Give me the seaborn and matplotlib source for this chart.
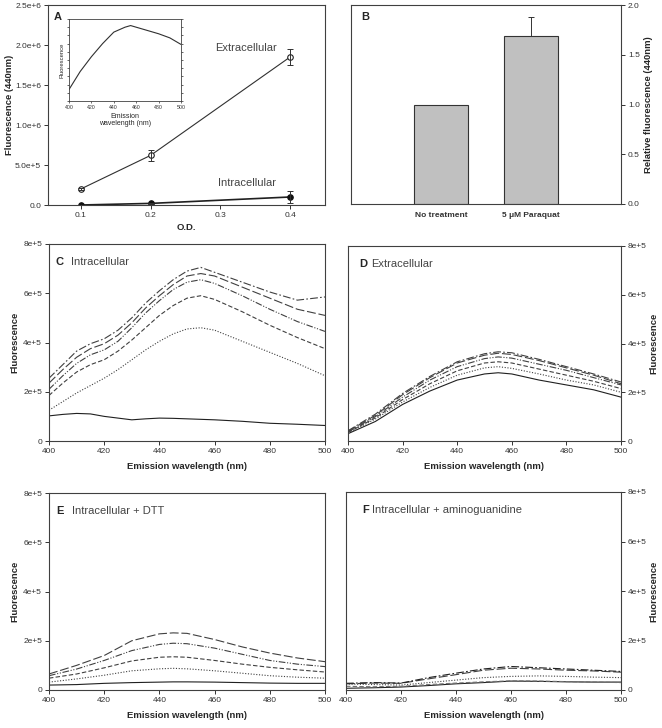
import numpy as np
import pandas as pd
import matplotlib
matplotlib.use("Agg")
import matplotlib.pyplot as plt
from matplotlib.ticker import FuncFormatter
import seaborn as sns

# ---- data ----
# panel A
od = [0.1, 0.2, 0.4]
extra_a = [2.0e5, 6.2e5, 1.85e6]
extra_a_err = [0.15e5, 0.7e5, 1.0e5]
intra_a = [0.0, 0.02e6, 0.10e6]
intra_a_err = [0.0, 0.01e6, 0.07e6]

inset_wl = [400, 410, 420, 430, 440, 450, 455, 460, 470, 480, 490, 500]
inset_fl = [0.14, 0.36, 0.54, 0.70, 0.84, 0.90, 0.92, 0.90, 0.86, 0.82, 0.77, 0.69]

# panel B
treatments = ["No treatment", "5 \u03bcM Paraquat"]
rel_fl = [1.0, 1.69]
rel_err = [0.0, 0.19]

# panel C (x 1e5)
wl_c = [400, 405, 410, 415, 420, 425, 430, 435, 440, 445, 450, 455, 460, 470, 480, 490, 500]
c_dashdot = [2.55, 3.1, 3.65, 3.95, 4.15, 4.5, 5.0, 5.6, 6.1, 6.55, 6.9, 7.05, 6.85, 6.45, 6.05, 5.72, 5.85]
c_longdash = [2.35, 2.9, 3.4, 3.75, 3.95, 4.3, 4.8, 5.4, 5.9, 6.35, 6.7, 6.8, 6.7, 6.25, 5.8, 5.35, 5.1]
c_dashdotdot = [2.1, 2.65, 3.15, 3.5, 3.7, 4.05, 4.6, 5.2, 5.7, 6.15, 6.45, 6.55, 6.4, 5.9, 5.35, 4.85, 4.45]
c_dash = [1.85, 2.35, 2.8, 3.1, 3.3, 3.65, 4.1, 4.6, 5.1, 5.5, 5.8, 5.9, 5.75, 5.25, 4.7, 4.2, 3.75]
c_dotted = [1.25, 1.6, 1.95, 2.25, 2.55, 2.9, 3.3, 3.7, 4.05, 4.35, 4.55, 4.6, 4.5, 4.05, 3.6, 3.15, 2.65]
c_solid = [1.02, 1.08, 1.12, 1.1, 1.0, 0.93, 0.86, 0.9, 0.93, 0.92, 0.9, 0.88, 0.86, 0.8, 0.72, 0.68, 0.63]

# panel D (x 1e5)
wl_d = [400, 410, 420, 430, 440, 450, 455, 460, 470, 480, 490, 500]
d_solid = [0.3, 0.8, 1.5, 2.05, 2.5, 2.75, 2.8, 2.75, 2.5, 2.3, 2.1, 1.8]
d_dotted = [0.33, 0.9, 1.6, 2.2, 2.7, 3.0, 3.05, 2.98, 2.75, 2.5, 2.3, 2.0]
d_dash = [0.35, 0.95, 1.7, 2.35, 2.88, 3.2, 3.25, 3.2, 2.95, 2.7, 2.45, 2.15]
d_dashdotdot = [0.37, 1.0, 1.8, 2.5, 3.05, 3.38, 3.45, 3.4, 3.15, 2.9, 2.6, 2.3]
d_longdash = [0.4, 1.05, 1.9, 2.6, 3.2, 3.52, 3.6, 3.55, 3.3, 3.0, 2.7, 2.35]
d_dashdot = [0.42, 1.1, 1.95, 2.65, 3.25, 3.58, 3.66, 3.62, 3.35, 3.05, 2.75, 2.42]

# panel E (x 1e5)
wl_e = [400, 410, 420, 430, 440, 445, 450, 460, 470, 480, 490, 500]
e_longdash = [0.65, 1.0, 1.4, 2.0, 2.28, 2.32, 2.3, 2.05, 1.75, 1.5, 1.3, 1.15]
e_dashdotdot = [0.58, 0.85, 1.2, 1.6, 1.85, 1.9, 1.88, 1.7, 1.45, 1.2, 1.05, 0.95]
e_dash = [0.48, 0.65, 0.9, 1.18, 1.33, 1.35, 1.33, 1.2, 1.05, 0.92, 0.82, 0.73]
e_dotted = [0.32, 0.45, 0.6, 0.78, 0.86, 0.88, 0.86, 0.78, 0.68, 0.58, 0.52, 0.48]
e_solid = [0.2, 0.22, 0.27, 0.3, 0.32, 0.33, 0.33, 0.32, 0.3, 0.28, 0.27, 0.27]

# panel F (x 1e5)
wl_f = [400, 410, 420, 430, 440, 450, 460, 470, 480, 490, 500]
f_dashdot = [0.27, 0.3, 0.28, 0.5, 0.68, 0.85, 0.95, 0.9, 0.85, 0.8, 0.75]
f_longdash = [0.25, 0.28, 0.27, 0.45, 0.62, 0.8, 0.88, 0.85, 0.8, 0.77, 0.72]
f_dotted = [0.24, 0.22, 0.2, 0.3, 0.4, 0.5, 0.55, 0.57, 0.55, 0.52, 0.5]
f_dash = [0.15, 0.13, 0.15, 0.22, 0.28, 0.33, 0.37, 0.36, 0.34, 0.32, 0.3]
f_solid = [0.07, 0.09, 0.12, 0.18, 0.25, 0.3, 0.36, 0.35, 0.33, 0.32, 0.32]

# ---- styling ----
sns.set_theme(style="ticks")
plt.rcParams["font.family"] = ["Liberation Sans", "DejaVu Sans"]
plt.rcParams["axes.edgecolor"] = "#404040"
plt.rcParams["axes.linewidth"] = 0.8

LS = {
    "solid": "-",
    "dotted": (0, (1, 1.5)),
    "dash": (0, (4, 2)),
    "dashdotdot": (0, (6, 1.5, 1, 1.5, 1, 1.5)),
    "longdash": (0, (8, 2.5)),
    "dashdot": (0, (7, 2, 1.5, 2)),
}
TICK = 6
LAB = 6.8

fig = plt.figure(figsize=(6.62, 7.28), dpi=100)


def px_axes(left, top, right, bottom):
    W, H = 662, 728
    return fig.add_axes([left / W, (H - bottom) / H, (right - left) / W, (bottom - top) / H])


def fmt_sci(v, pos):
    if v == 0:
        return "0"
    e = int(np.floor(np.log10(abs(v))))
    return f"{v / 10**e:.0f}e+{e}"


def fmt_sci1(v, pos):
    if v == 0:
        return "0.0"
    e = int(np.floor(np.log10(abs(v))))
    return f"{v / 10**e:.1f}e+{e}"


def style_axes(ax, right=False):
    ax.tick_params(labelsize=TICK, length=3, width=0.7, direction="out", pad=2, colors="#333333")
    if right:
        ax.yaxis.tick_right()
        ax.yaxis.set_label_position("right")
    for s in ax.spines.values():
        s.set_visible(True)


def spectrum_panel(ax, wl, series, letter, title, right=False, letter_x=0.025, title_x=0.08, ylab_x=-0.107):
    for vals, style, col in series:
        sns.lineplot(x=wl, y=np.array(vals) * 1e5, ax=ax, color=col, linestyle=LS[style], linewidth=0.8)
    ax.set_xlim(400, 500)
    ax.set_ylim(0, 8e5)
    ax.set_xticks([400, 420, 440, 460, 480, 500])
    ax.set_yticks([0, 2e5, 4e5, 6e5, 8e5])
    ax.yaxis.set_major_formatter(FuncFormatter(fmt_sci))
    style_axes(ax, right)
    ax.set_xlabel("Emission wavelength (nm)", fontsize=LAB, fontweight="bold", labelpad=5)
    ax.set_ylabel("Fluorescence", fontsize=LAB, fontweight="bold")
    ax.yaxis.set_label_coords(ylab_x, 0.5)
    ax.text(letter_x, 0.91, letter, transform=ax.transAxes, fontsize=8, fontweight="bold", va="center")
    ax.text(title_x, 0.91, title, transform=ax.transAxes, fontsize=8, color="#444444", va="center")


# ---- panel A ----
axA = px_axes(48, 5, 325, 205)
sns.lineplot(x=od, y=extra_a, ax=axA, color="#303030", linewidth=0.8, marker="o",
             markersize=4, markerfacecolor="white", markeredgecolor="#202020", markeredgewidth=0.8)
sns.lineplot(x=od, y=intra_a, ax=axA, color="#202020", linewidth=1.2, marker="o",
             markersize=4, markerfacecolor="#101010", markeredgecolor="#101010")
axA.errorbar(od, extra_a, yerr=extra_a_err, fmt="none", ecolor="#303030", elinewidth=0.7, capsize=2.5, capthick=0.7)
axA.errorbar(od, intra_a, yerr=intra_a_err, fmt="none", ecolor="#303030", elinewidth=0.7, capsize=2.5, capthick=0.7)
axA.set_xlim(0.053, 0.45)
axA.set_ylim(0, 2.5e6)
axA.set_xticks([0.1, 0.2, 0.3, 0.4])
axA.set_yticks([0, 5e5, 1e6, 1.5e6, 2e6, 2.5e6])
axA.yaxis.set_major_formatter(FuncFormatter(fmt_sci1))
style_axes(axA)
axA.set_xlabel("O.D.", fontsize=LAB, fontweight="bold", labelpad=3)
axA.set_ylabel("Fluorescence (440nm)", fontsize=LAB, fontweight="bold")
axA.yaxis.set_label_coords(-0.121, 0.5)
axA.text(0.02, 0.94, "A", transform=axA.transAxes, fontsize=8, fontweight="bold", va="center")
axA.text(0.337, 1.96e6, "Extracellular", fontsize=8, color="#444444", ha="center", va="center")
axA.text(0.338, 0.27e6, "Intracellular", fontsize=8, color="#444444", ha="center", va="center")

# inset
axI = px_axes(69, 19, 181, 101)
sns.lineplot(x=inset_wl, y=inset_fl, ax=axI, color="#303030", linewidth=0.8)
axI.set_xlim(400, 500)
axI.set_ylim(0, 1)
axI.set_xticks([400, 420, 440, 460, 480, 500])
axI.set_yticks(np.arange(0, 1.01, 0.1))
axI.tick_params(axis="x", labelsize=3.8, length=1.5, width=0.5, pad=1.5, colors="#333333")
axI.tick_params(axis="y", labelleft=False, left=True, right=True, length=1.5, width=0.5)
for s in axI.spines.values():
    s.set_visible(True)
    s.set_linewidth(0.6)
axI.set_xlabel("Emission\nwavelength (nm)", fontsize=5, labelpad=2, linespacing=0.95)
axI.set_ylabel("Fluorescence", fontsize=4.2, labelpad=2)

# ---- panel B ----
axB = px_axes(351, 5, 621, 204)
sns.barplot(x=treatments, y=rel_fl, ax=axB, color="#c0c0c0", edgecolor="#333333",
            linewidth=0.8, width=0.6, saturation=1)
axB.errorbar([1], [rel_fl[1]], yerr=[[0], [rel_err[1]]], fmt="none", ecolor="#333333",
             elinewidth=0.7, capsize=2.5, capthick=0.7)
axB.set_xlim(-1, 2)
axB.set_ylim(0, 2.0)
axB.set_yticks([0, 0.5, 1.0, 1.5, 2.0])
axB.yaxis.set_major_formatter(FuncFormatter(lambda v, p: f"{v:.1f}"))
style_axes(axB, right=True)
axB.tick_params(axis="x", length=0, pad=6)
for t in axB.get_xticklabels():
    t.set_fontweight("bold")
axB.set_xlabel("")
axB.set_ylabel("Relative fluorescence (440nm)", fontsize=LAB, fontweight="bold")
axB.yaxis.set_label_coords(1.087, 0.5)
axB.text(0.037, 0.94, "B", transform=axB.transAxes, fontsize=8, fontweight="bold", va="center")

# ---- panels C-F ----
dark = "#202020"
mid = "#404040"
axC = px_axes(49, 244, 325, 441)
spectrum_panel(axC, wl_c, [
    (c_solid, "solid", dark), (c_dotted, "dotted", mid), (c_dash, "dash", mid),
    (c_dashdotdot, "dashdotdot", mid), (c_longdash, "longdash", mid), (c_dashdot, "dashdot", mid),
], "C", "Intracellular")

axD = px_axes(348, 246, 621, 441)
spectrum_panel(axD, wl_d, [
    (d_solid, "solid", dark), (d_dotted, "dotted", mid), (d_dash, "dash", mid),
    (d_dashdotdot, "dashdotdot", mid), (d_longdash, "longdash", mid), (d_dashdot, "dashdot", mid),
], "D", "Extracellular", right=True, letter_x=0.04, title_x=0.085, ylab_x=1.105)

axE = px_axes(49, 493, 325, 690)
spectrum_panel(axE, wl_e, [
    (e_solid, "solid", dark), (e_dotted, "dotted", mid), (e_dash, "dash", mid),
    (e_dashdotdot, "dashdotdot", mid), (e_longdash, "longdash", mid),
], "E", "Intracellular + DTT", title_x=0.083)

axF = px_axes(346, 492, 621, 690)
spectrum_panel(axF, wl_f, [
    (f_solid, "solid", dark), (f_dash, "dash", "#707070"), (f_dotted, "dotted", mid),
    (f_longdash, "longdash", mid), (f_dashdot, "dashdot", dark),
], "F", "Intracellular + aminoguanidine", right=True, letter_x=0.06, title_x=0.095, ylab_x=1.104)

fig.savefig("out.png", dpi=100)
